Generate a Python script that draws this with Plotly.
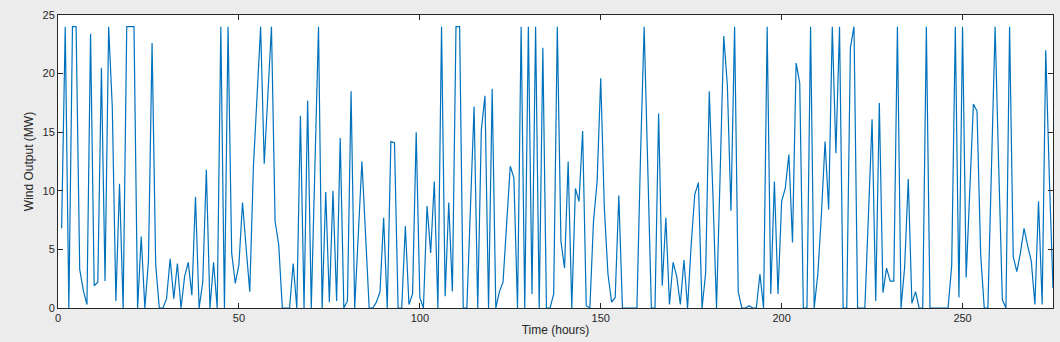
import plotly.graph_objects as go

hours = list(range(1, 276))
wind_mw = [
    6.8, 24, 0, 24, 24, 3.3, 1.5, 0.3, 23.4, 1.9,
    2.2, 20.5, 2.3, 24, 17.2, 0.6, 10.6, 0, 24, 24,
    24, 0, 6.1, 0, 4, 22.6, 3.7, 0, 0, 0.8,
    4.2, 0.8, 3.8, 0, 2.7, 3.9, 1.1, 9.5, 0, 2.2,
    11.8, 0, 3.9, 0, 24, 0, 24, 4.7, 2.1, 3.7,
    9.0, 5.1, 1.4, 12, 18, 24, 12.3, 18, 24, 7.4,
    5.4, 0, 0, 0, 3.8, 0, 16.4, 0, 17.7, 0,
    12, 24, 0, 9.9, 0.5, 10.0, 0.6, 14.5, 0, 0.6,
    18.5, 0, 6.3, 12.5, 6.3, 0, 0, 0.5, 1.4, 7.7,
    0, 14.2, 14.1, 0, 0, 7.0, 0.3, 1.2, 15.0, 0.9,
    0, 8.7, 4.7, 10.8, 0, 24, 1.0, 9.0, 1.4, 24,
    24, 0, 0, 8.5, 17.2, 0, 15.2, 18.1, 0, 18.7,
    0, 1.4, 2.2, 7.2, 12.1, 11.1, 0, 24, 0, 24,
    1.2, 24, 0, 22.2, 0, 0, 1.2, 24, 5.7, 3.4,
    12.5, 0, 10.2, 9.1, 15.1, 0.2, 0, 7.4, 10.8, 19.6,
    8.5, 2.9, 0.5, 0.9, 9.6, 0, 0, 0, 0, 0,
    13, 24, 12, 0, 0, 16.6, 1.9, 7.7, 0.3, 3.9,
    2.7, 0.3, 4.1, 0, 5.4, 9.7, 10.7, 0, 3.0, 18.5,
    9.7, 0, 11.4, 23.2, 19.0, 8.3, 24, 1.4, 0, 0,
    0.2, 0, 0, 2.9, 0, 24, 1.2, 10.8, 1.2, 9.1,
    10.2, 13.1, 5.6, 20.9, 19.2, 0, 0, 24, 0, 2.9,
    8, 14.2, 8.4, 24, 13.2, 24, 0, 0, 22.2, 24,
    0, 0, 0, 8, 16.1, 0.6, 17.5, 1.3, 3.4, 2.3,
    2.3, 24, 0, 3.5, 11.0, 0.4, 1.4, 0, 0, 24,
    0, 0, 0, 0, 0, 0, 3.6, 24, 0.9, 24,
    2.6, 10, 17.4, 16.8, 4.6, 0, 0, 12, 24, 12,
    0.7, 0, 24, 4.4, 3.1, 4.7, 6.8, 5.3, 4.0, 0.3,
    9.1, 0.3, 22.0, 11, 1.7,
]

x_ticks = [0, 50, 100, 150, 200, 250]
y_ticks = [0, 5, 10, 15, 20, 25]

FONT = "Liberation Sans, Arial, sans-serif"

fig = go.Figure()
fig.add_trace(go.Scatter(
    x=hours, y=wind_mw, mode="lines",
    line=dict(color="#0072BD", width=1.2),
    hoverinfo="skip", showlegend=False,
))

axis_common = dict(
    showline=True, linecolor="#262626", linewidth=1, mirror="allticks",
    ticks="inside", ticklen=5, tickcolor="#262626", tickwidth=1,
    showgrid=False, zeroline=False, automargin=False,
    tickfont=dict(family=FONT, size=11, color="#262626"),
)

fig.update_layout(
    width=1060, height=342,
    margin=dict(l=58, r=7, t=15, b=34, autoexpand=False),
    paper_bgcolor="#ececec", plot_bgcolor="white",
    xaxis=dict(range=[0, 275], tickvals=x_ticks,
               title=dict(text="Time (hours)", standoff=2,
                          font=dict(family=FONT, size=12, color="#262626")),
               **axis_common),
    yaxis=dict(range=[0, 25], tickvals=y_ticks,
               title=dict(text="Wind Output (MW)", standoff=6,
                          font=dict(family=FONT, size=12, color="#262626")),
               **axis_common),
)

fig.write_html(
    "out.html",
    config={"displayModeBar": False},
    post_script="document.body.style.margin='0';document.body.style.overflow='hidden';",
)
